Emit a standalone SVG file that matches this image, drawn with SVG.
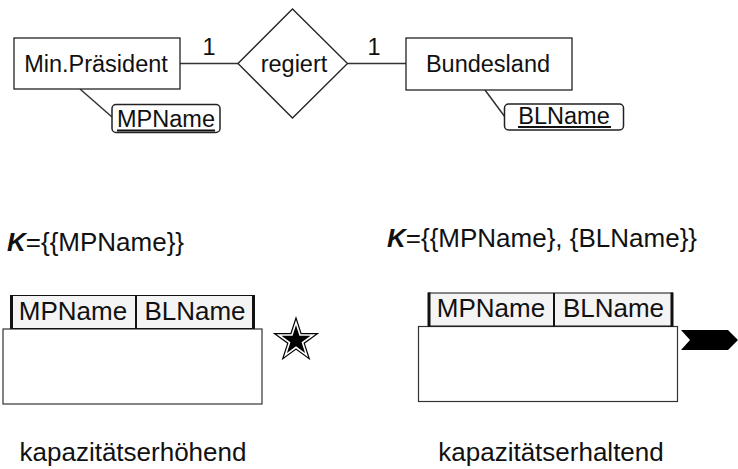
<svg xmlns="http://www.w3.org/2000/svg" width="738" height="469" viewBox="0 0 738 469">
<style>
text{font-family:"Liberation Sans",Arial,sans-serif;fill:#111}
.t{font-size:23.5px}
.b{font-size:26px}
.ent{fill:#fff;stroke:#222;stroke-width:1.3}
.att{fill:#fff;stroke:#222;stroke-width:1.5}
.ln{stroke:#333;stroke-width:1.5;fill:none}
.ul{stroke:#111;stroke-width:2}
.hdr{fill:#f4f4f4;stroke:#111;stroke-width:1}
.thick{stroke:#111;stroke-width:3}
.body{fill:#fff;stroke:#333;stroke-width:1.2}
</style>
<defs>
<path id="star" d="M0,-1 L0.2245,-0.309 L0.951,-0.309 L0.3633,0.118 L0.5878,0.809 L0,0.382 L-0.5878,0.809 L-0.3633,0.118 L-0.951,-0.309 L-0.2245,-0.309 Z"/>
</defs>
<g id="connectors">
<line class="ln" x1="180" y1="63.5" x2="238" y2="63.5"/>
<line class="ln" x1="347.5" y1="63.5" x2="406" y2="63.5"/>
<line class="ln" x1="80" y1="89" x2="112" y2="117"/>
<line class="ln" x1="485" y1="90" x2="505" y2="117"/>
<text class="t" x="209" y="55" text-anchor="middle">1</text>
<text class="t" x="374" y="55" text-anchor="middle">1</text>
</g>
<g id="minpraesident">
<rect class="ent" x="14" y="38" width="166" height="51"/>
<text class="t" x="96" y="72" text-anchor="middle">Min.Präsident</text>
</g>
<g id="regiert">
<polygon class="ent" points="238,63.5 292.5,9 347.5,63.5 292.5,118"/>
<text class="t" x="294" y="72" text-anchor="middle">regiert</text>
</g>
<g id="bundesland">
<rect class="ent" x="406" y="38" width="166" height="52"/>
<text class="t" x="488" y="72" text-anchor="middle">Bundesland</text>
</g>
<g id="mpname">
<rect class="att" x="112" y="104.5" width="108" height="28" rx="4"/>
<text class="t" x="166" y="127" text-anchor="middle">MPName</text>
<line class="ul" x1="117" y1="130.5" x2="215" y2="130.5"/>
</g>
<g id="blname">
<rect class="att" x="504.5" y="104" width="119" height="26" rx="4"/>
<text class="t" x="564" y="124" text-anchor="middle">BLName</text>
<line class="ul" x1="518" y1="127" x2="611" y2="127"/>
</g>
<g id="left-key">
<text class="b" x="7" y="251"><tspan font-weight="bold" font-style="italic">K</tspan>={{MPName}}</text>
</g>
<g id="left-table">
<rect class="body" x="3" y="329" width="259" height="75"/>
<rect class="hdr" x="11" y="295.5" width="243" height="33"/>
<line class="thick" x1="11.5" y1="295" x2="11.5" y2="329"/>
<line class="thick" x1="253.5" y1="295" x2="253.5" y2="329"/>
<line class="ul" x1="136" y1="295.5" x2="136" y2="329"/>
<text class="b" x="73" y="320" text-anchor="middle">MPName</text>
<text class="b" x="195" y="320" text-anchor="middle">BLName</text>
</g>
<g id="star-symbol">
<use href="#star" transform="translate(296,340.5) scale(24.5)" fill="#000"/>
<use href="#star" transform="translate(296,340.5) scale(18)" fill="#000" stroke="#fff" stroke-width="0.09"/>
</g>
<g id="left-label">
<text class="b" x="133" y="461" text-anchor="middle">kapazitätserhöhend</text>
</g>
<g id="right-key">
<text class="b" x="387" y="247"><tspan font-weight="bold" font-style="italic">K</tspan>={{MPName}, {BLName}}</text>
</g>
<g id="right-table">
<rect class="body" x="418.5" y="326.5" width="259" height="75"/>
<rect class="hdr" x="428.5" y="293" width="244" height="33"/>
<line class="thick" x1="429" y1="292.5" x2="429" y2="326.5"/>
<line class="thick" x1="672" y1="292.5" x2="672" y2="326.5"/>
<line class="ul" x1="554" y1="293" x2="554" y2="326.5"/>
<text class="b" x="491" y="317" text-anchor="middle">MPName</text>
<text class="b" x="613.5" y="317" text-anchor="middle">BLName</text>
</g>
<g id="arrow-symbol">
<polygon points="681,330 728,330 738,340 728,350 681,350 690,340" fill="#000"/>
</g>
<g id="right-label">
<text class="b" x="551" y="461" text-anchor="middle">kapazitätserhaltend</text>
</g>
</svg>
